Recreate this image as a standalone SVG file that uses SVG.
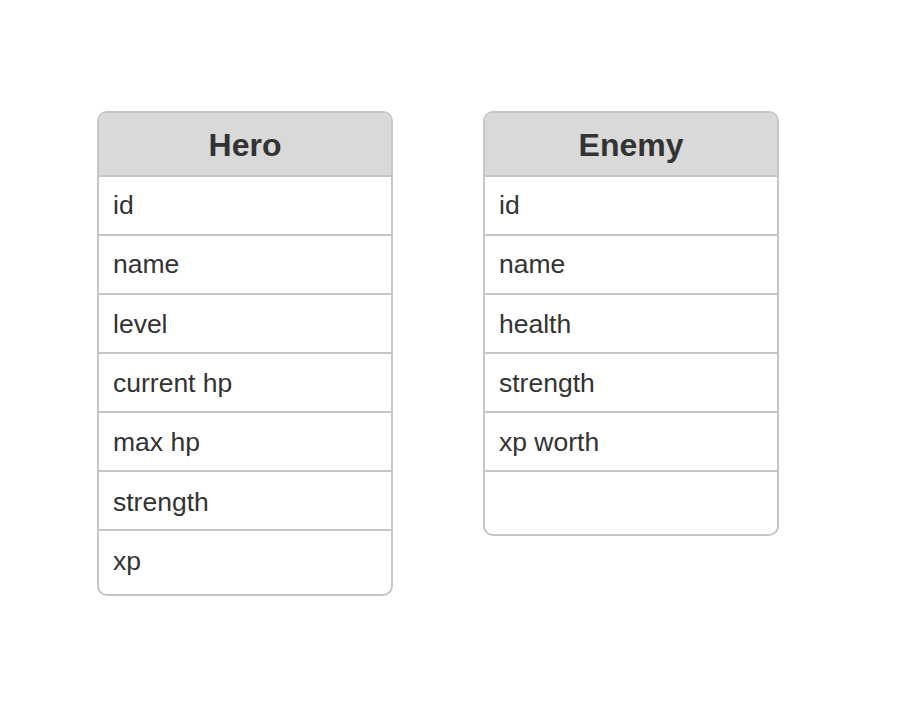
<svg xmlns="http://www.w3.org/2000/svg" width="902" height="711" viewBox="0 0 902 711">
<style>
.box{fill:#ffffff;stroke:#c6c6c6;stroke-width:2}
.hdr{fill:#d9d9d9}
.sep{stroke:#c6c6c6;stroke-width:2}
.title{font-family:"Liberation Sans",Arial,sans-serif;font-weight:bold;font-size:32px;fill:#333333;text-anchor:middle}
.f{font-family:"Liberation Sans",Arial,sans-serif;font-size:26.5px;fill:#333333}
</style>
<rect width="902" height="711" fill="#ffffff"/>
<g id="hero">
<rect class="box" x="98" y="112" width="294" height="483" rx="9"/>
<path class="hdr" d="M99,176 V121 A8,8 0 0 1 107,113 H383 A8,8 0 0 1 391,121 V176 Z"/>
<line class="sep" x1="98" y1="176" x2="392" y2="176"/>
<line class="sep" x1="98" y1="235" x2="392" y2="235"/>
<line class="sep" x1="98" y1="294" x2="392" y2="294"/>
<line class="sep" x1="98" y1="353" x2="392" y2="353"/>
<line class="sep" x1="98" y1="412" x2="392" y2="412"/>
<line class="sep" x1="98" y1="471" x2="392" y2="471"/>
<line class="sep" x1="98" y1="530" x2="392" y2="530"/>
<text class="title" x="245" y="156">Hero</text>
<text class="f" x="113" y="214">id</text>
<text class="f" x="113" y="273">name</text>
<text class="f" x="113" y="333">level</text>
<text class="f" x="113" y="392">current hp</text>
<text class="f" x="113" y="451">max hp</text>
<text class="f" x="113" y="511">strength</text>
<text class="f" x="113" y="570">xp</text>
</g>
<g id="enemy">
<rect class="box" x="484" y="112" width="294" height="423" rx="9"/>
<path class="hdr" d="M485,176 V121 A8,8 0 0 1 493,113 H769 A8,8 0 0 1 777,121 V176 Z"/>
<line class="sep" x1="484" y1="176" x2="778" y2="176"/>
<line class="sep" x1="484" y1="235" x2="778" y2="235"/>
<line class="sep" x1="484" y1="294" x2="778" y2="294"/>
<line class="sep" x1="484" y1="353" x2="778" y2="353"/>
<line class="sep" x1="484" y1="412" x2="778" y2="412"/>
<line class="sep" x1="484" y1="471" x2="778" y2="471"/>
<text class="title" x="631" y="156">Enemy</text>
<text class="f" x="499" y="214">id</text>
<text class="f" x="499" y="273">name</text>
<text class="f" x="499" y="333">health</text>
<text class="f" x="499" y="392">strength</text>
<text class="f" x="499" y="451">xp worth</text>
</g>
<g id="connectors"></g>
</svg>
